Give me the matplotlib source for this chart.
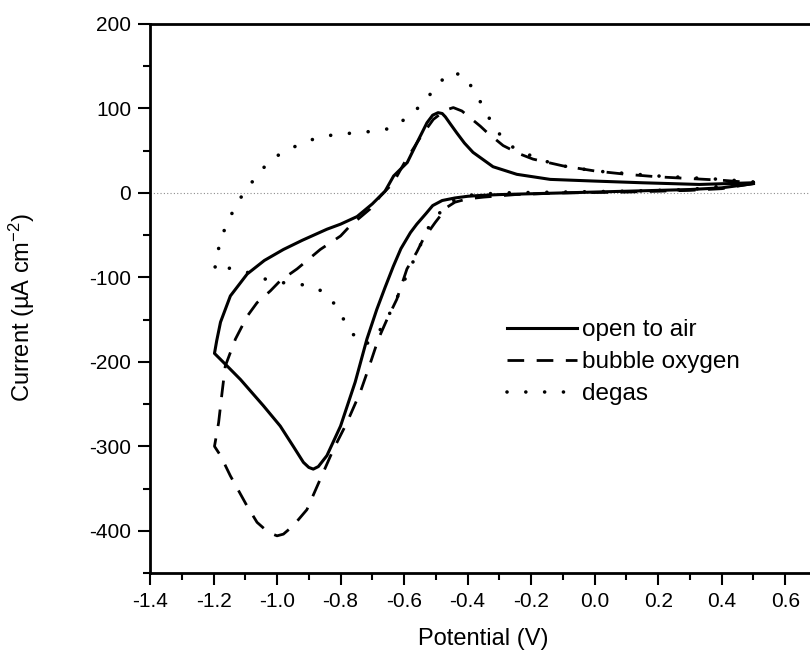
#!/usr/bin/env python3

import matplotlib
matplotlib.use("Agg")
import matplotlib.pyplot as plt
from matplotlib.ticker import MultipleLocator, FormatStrFormatter

plt.rcParams["font.family"] = ["Liberation Sans", "DejaVu Sans"]
plt.rcParams["mathtext.fontset"] = "custom"
plt.rcParams["mathtext.rm"] = "Liberation Sans"
plt.rcParams["mathtext.it"] = "Liberation Sans:italic"
plt.rcParams["axes.unicode_minus"] = False

# Cyclic voltammograms, scan starts at +0.5 V, goes to -1.2 V and back.
air_potential = [
    0.5, 0.4, 0.3, 0.2, 0.1, 0.0, -0.1, -0.2, -0.3, -0.36, -0.4, -0.44, -0.48,
    -0.51, -0.53, -0.56, -0.58, -0.61, -0.634, -0.66, -0.686, -0.717, -0.754,
    -0.80, -0.843, -0.87, -0.886, -0.90, -0.917, -0.949, -0.99, -1.043, -1.115,
    -1.157, -1.197,
    -1.19, -1.178, -1.147, -1.094, -1.04, -0.98, -0.92, -0.843, -0.80, -0.748,
    -0.70, -0.66, -0.633, -0.59, -0.56, -0.528, -0.51, -0.493, -0.48, -0.47,
    -0.455, -0.434, -0.41, -0.383, -0.32, -0.245, -0.14, 0.0, 0.15, 0.33, 0.5,
]
air_current = [
    11, 6, 4, 3, 2, 1, 0, -1, -2, -3, -4, -6, -9,
    -15, -24, -37, -47, -66, -87, -112, -138, -173, -224,
    -276, -311, -324, -327, -325, -319, -300, -276, -252, -221,
    -205, -190,
    -175, -153, -122, -96, -80, -67, -56, -43, -37, -28,
    -13, 2, 20, 36, 59, 83, 92, 95, 94, 90,
    82, 71, 59, 48, 31, 22, 16, 14, 12, 10, 12,
]

oxygen_potential = [
    0.5, 0.4, 0.3, 0.1, -0.1, -0.25, -0.35, -0.4, -0.44, -0.465, -0.502,
    -0.54, -0.56, -0.591, -0.623, -0.654, -0.681, -0.713, -0.738, -0.78,
    -0.823, -0.864, -0.906, -0.949, -0.98, -1.0, -1.027, -1.063, -1.094,
    -1.147, -1.178, -1.197,
    -1.19, -1.184, -1.173, -1.163, -1.131, -1.094, -1.063, -1.021, -0.99,
    -0.937, -0.864, -0.80, -0.77, -0.707, -0.675, -0.634, -0.6, -0.55,
    -0.508, -0.47, -0.445, -0.418, -0.36, -0.34, -0.288, -0.235, -0.194,
    -0.1, 0.0, 0.1, 0.2, 0.3, 0.4, 0.5,
]
oxygen_current = [
    11, 5, 3, 1, 0, -2, -5, -7, -11, -17, -35,
    -55, -70, -90, -126, -150, -173, -209, -236, -272,
    -304, -339, -375, -394, -404, -406, -402, -390, -371,
    -335, -311, -300,
    -285, -272, -236, -205, -173, -146, -130, -116, -104,
    -90, -67, -51, -39, -19, -4, 12, 35, 65,
    87, 98, 101, 97, 79, 72, 56, 46, 40,
    32, 26, 22, 19, 17, 15, 12,
]

degas_potential = [
    0.5, 0.3, 0.1, -0.1, -0.3, -0.4, -0.45, -0.5, -0.53, -0.56, -0.607,
    -0.628, -0.65, -0.68, -0.705, -0.728, -0.75, -0.77, -0.796, -0.811,
    -0.853, -0.901, -0.948, -0.998, -1.047, -1.094, -1.147, -1.197,
    -1.189, -1.178, -1.157, -1.134, -1.105, -1.066, -1.026, -0.979, -0.931,
    -0.883, -0.835, -0.785, -0.736, -0.686, -0.638, -0.591, -0.54, -0.503,
    -0.46, -0.413, -0.376, -0.35, -0.324, -0.287, -0.25, -0.2, -0.15, -0.1,
    0.0, 0.1, 0.2, 0.3, 0.4, 0.5,
]
degas_current = [
    12, 4, 2, 1, 0, -3, -10, -28, -45, -72, -110,
    -130, -146, -165, -176, -180, -172, -163, -146, -135,
    -117, -110, -107, -106, -101, -94, -89, -92,
    -75, -55, -36, -18, 0, 19, 37, 49, 57,
    64, 68, 70, 72, 73, 77, 89, 106, 124,
    142, 140, 119, 101, 83, 63, 52, 44, 37, 32,
    26, 23, 20, 18, 16, 13,
]

fig = plt.figure(figsize=(8.1, 6.55), dpi=100)
# Right edge sits just past the picture, as in the scanned original.
ax = fig.add_axes([0.1852, 0.1252, 0.8234, 0.8382])

ax.axhline(0, color="0.55", lw=0.8, ls=(0, (1, 2)), zorder=1)

ax.plot(air_potential, air_current, color="black", lw=2.2,
        label="open to air", solid_joinstyle="round")
ax.plot(oxygen_potential, oxygen_current, color="black", lw=2.0,
        ls=(0, (6, 4.5)), label="bubble oxygen")
ax.plot(degas_potential, degas_current, color="black", lw=2.6,
        ls=(0, (0.01, 5.2)), dash_capstyle="round", label="degas")

ax.set_xlim(-1.4, 0.7)
ax.set_ylim(-450, 200)
ax.xaxis.set_major_locator(MultipleLocator(0.2))
ax.xaxis.set_minor_locator(MultipleLocator(0.1))
ax.xaxis.set_major_formatter(FormatStrFormatter("%.1f"))
ax.yaxis.set_major_locator(MultipleLocator(100))
ax.yaxis.set_minor_locator(MultipleLocator(50))

ax.tick_params(which="major", direction="out", length=8.5, width=1.5,
               labelsize=15, pad=5)
ax.tick_params(which="minor", direction="out", length=5, width=1.5)
for side in ("left", "bottom", "top", "right"):
    ax.spines[side].set_linewidth(2.0)

ax.set_xlabel("Potential (V)", fontsize=17)
ax.set_ylabel("Current (\u00b5A cm$^{-2}$)", fontsize=17)
ax.xaxis.set_label_coords(0.5, -0.1)
ax.yaxis.set_label_coords(-0.17, 0.483)

ax.legend(loc="upper left", bbox_to_anchor=(507 / 810, 1 - 319 / 655),
          bbox_transform=fig.transFigure, frameon=False, fontsize=17.5,
          borderpad=0, borderaxespad=0, handlelength=2.9,
          handletextpad=0.2, labelspacing=0.42)

plt.savefig("out.png", dpi=100)
